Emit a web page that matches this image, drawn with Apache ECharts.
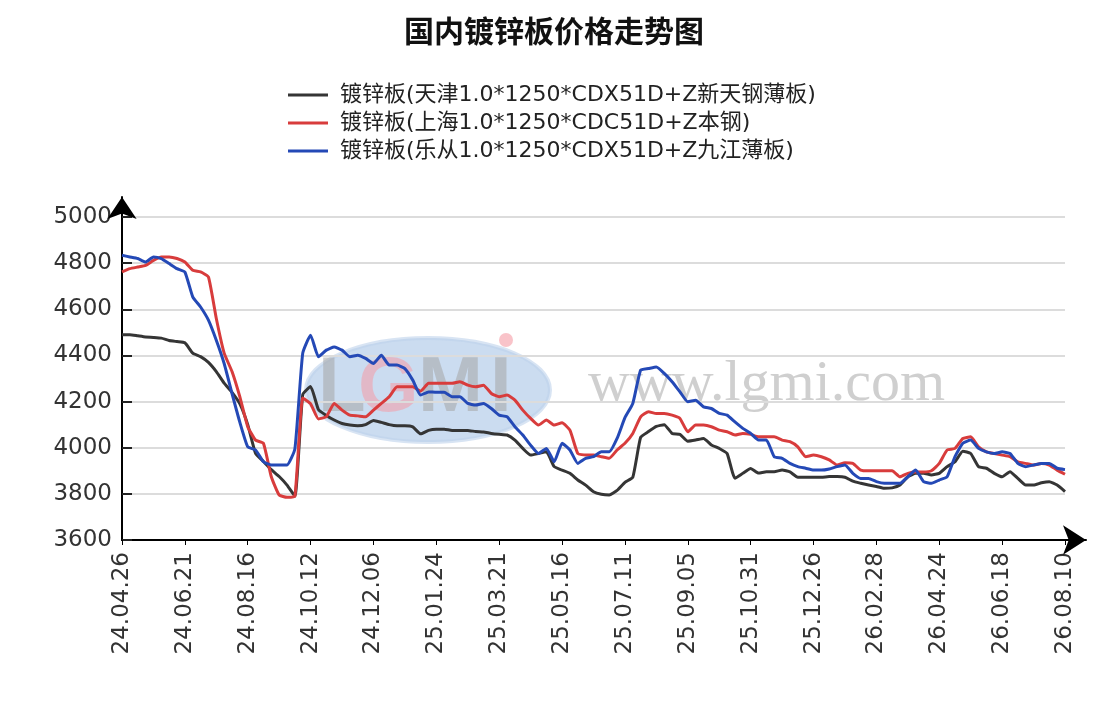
<!DOCTYPE html>
<html>
<head>
<meta http-equiv="content-type" content="text/html; charset=utf-8"/>
<title>国内镀锌板价格走势图</title>
<style type="text/css">
    html, body { margin: 0; padding: 0; background: #fff; }
    #main { width: 1108px; height: 707px; }
</style>
<script type="text/javascript" src="https://cdn.jsdelivr.net/npm/echarts@6/dist/echarts.min.js"></script>
</head>
<body>
<div id="main"></div>
<script>
    // x tick labels, one every STEP samples
    var xLabels = ['24.04.26', '24.06.21', '24.08.16', '24.10.12', '24.12.06', '25.01.24',
        '25.03.21', '25.05.16', '25.07.11', '25.09.05', '25.10.31', '25.12.26',
        '26.02.28', '26.04.24', '26.06.18', '26.08.10'];
    var STEP = 8;
    var seriesNames = ['镀锌板(天津1.0*1250*CDX51D+Z新天钢薄板)',
        '镀锌板(上海1.0*1250*CDC51D+Z本钢)',
        '镀锌板(乐从1.0*1250*CDX51D+Z九江薄板)'];
    var seriesColors = ['#353535', '#d83c3c', '#2449b6'];

    // 天津
    var tianjin = [
        4490, 4490, 4485, 4480, 4478, 4475, 4465, 4460, 4455, 4410, 4395, 4370, 4330, 4280, 4240, 4190,
        4100, 3975, 3940, 3905, 3875, 3838, 3790, 4230, 4265, 4165, 4140, 4120, 4105, 4098, 4095,
        4100, 4118, 4110, 4100, 4095, 4095, 4090, 4060, 4075, 4080, 4080, 4075, 4075, 4075, 4070,
        4068, 4062, 4058, 4055, 4033, 3997, 3968, 3975, 3982, 3918, 3903, 3889, 3860, 3838, 3809,
        3798, 3795, 3815, 3850, 3872, 4045, 4070, 4092, 4100, 4062, 4058, 4028, 4033, 4040, 4012, 3997,
        3975, 3868, 3889, 3910, 3890, 3896, 3896, 3903, 3895, 3872, 3872, 3872, 3872, 3875, 3875, 3872,
        3855, 3846, 3838, 3832, 3824, 3826, 3838, 3874, 3889, 3889, 3882, 3889, 3918, 3939, 3985,
        3975, 3918, 3911, 3889, 3874, 3896, 3867, 3838, 3838, 3848, 3853, 3838, 3810
    ];
    // 上海
    var shanghai = [
        4762, 4776, 4783, 4790, 4812, 4827, 4827, 4820, 4805, 4769, 4762, 4740, 4560, 4410, 4330, 4220,
        4091, 4033, 4019, 3874, 3795, 3785, 3790, 4215, 4190, 4125, 4134, 4192, 4163, 4141, 4138,
        4134, 4163, 4192, 4221, 4264, 4264, 4264, 4245, 4279, 4279, 4279, 4279, 4286, 4271, 4264,
        4271, 4235, 4221, 4228, 4206, 4163, 4127, 4098, 4120, 4098, 4108, 4076, 3975, 3968, 3968,
        3961, 3954, 3990, 4019, 4062, 4134, 4156, 4148, 4148, 4141, 4127, 4069, 4098, 4098, 4091, 4076,
        4069, 4055, 4062, 4058, 4047, 4047, 4047, 4033, 4026, 4004, 3961, 3968, 3961, 3947, 3925, 3935,
        3932, 3903, 3900, 3900, 3900, 3900, 3874, 3889, 3895, 3895, 3900, 3932, 3990, 3997, 4040,
        4047, 4004, 3982, 3975, 3968, 3961, 3939, 3932, 3925, 3932, 3925, 3903, 3885
    ];
    // 乐从
    var lecong = [
        4834, 4827, 4820, 4805, 4827, 4820, 4798, 4776, 4762, 4654, 4610, 4553, 4466, 4365, 4235, 4110,
        4004, 3990, 3939, 3925, 3925, 3925, 3995, 4410, 4488, 4394, 4423, 4437, 4423, 4394, 4401,
        4387, 4365, 4401, 4358, 4358, 4343, 4293, 4228, 4242, 4240, 4240, 4221, 4221, 4192, 4185,
        4192, 4170, 4141, 4134, 4091, 4055, 4011, 3975, 3997, 3939, 4019, 3990, 3932, 3954, 3961,
        3982, 3982, 4040, 4130, 4192, 4336, 4343, 4350, 4322, 4286, 4242, 4199, 4206, 4177, 4170, 4149,
        4141, 4112, 4084, 4062, 4033, 4033, 3961, 3954, 3932, 3918, 3911, 3903, 3903, 3908, 3918, 3925,
        3889, 3867, 3867, 3853, 3846, 3846, 3846, 3874, 3903, 3853, 3846, 3860, 3874, 3961, 4019,
        4033, 3997, 3982, 3975, 3982, 3975, 3932, 3918, 3925, 3932, 3932, 3911, 3905
    ];
    var yMin = 3600, yMax = 5000, yStep = 200;

    var font = 'DejaVu Sans, Noto Sans CJK SC, sans-serif';

    function toPoints(values) {
        var pts = [];
        for (var i = 0; i < values.length; i++) {
            pts.push([i / STEP, values[i]]);
        }
        return pts;
    }

    var chart = echarts.init(document.getElementById('main'));
    var allValues = [tianjin, shanghai, lecong];
    var series = [];
    for (var s = 0; s < allValues.length; s++) {
        series.push({
            name: seriesNames[s],
            type: 'line',
            xAxisIndex: 0,
            yAxisIndex: 0,
            showSymbol: false,
            smooth: 0.15,
            lineStyle: { color: seriesColors[s], width: 3 },
            itemStyle: { color: seriesColors[s] },
            data: toPoints(allValues[s])
        });
    }

    var option = {
        animation: false,
        backgroundColor: '#fff',
        title: {
            text: '国内镀锌板价格走势图',
            left: 'center',
            top: 11,
            textStyle: { fontSize: 30, fontWeight: 'bold', color: '#111', fontFamily: 'Noto Sans CJK SC' }
        },
        legend: {
            orient: 'vertical',
            left: 283,
            top: 79,
            itemWidth: 40,
            itemHeight: 3,
            itemGap: 6,
            icon: 'rect',
            textStyle: { fontSize: 22, color: '#222', fontFamily: font, padding: [0, 0, 0, 7] },
            data: seriesNames
        },
        // watermark
        graphic: [
            {
                type: 'ellipse', z: 0, silent: true,
                shape: { cx: 428, cy: 390, rx: 122, ry: 52 },
                style: { fill: 'rgba(140,178,222,0.45)', stroke: 'rgba(190,210,235,0.6)', lineWidth: 4 }
            },
            { type: 'text', z: 0, silent: true, x: 318, y: 428,
              style: { text: 'L', font: 'bold 78px Liberation Sans', fill: 'rgba(165,165,165,0.55)', textVerticalAlign: 'bottom' } },
            { type: 'text', z: 0, silent: true, x: 358, y: 428,
              style: { text: 'G', font: 'bold 78px Liberation Sans', fill: 'rgba(245,155,165,0.55)', textVerticalAlign: 'bottom' } },
            { type: 'text', z: 0, silent: true, x: 418, y: 428,
              style: { text: 'M', font: 'bold 78px Liberation Sans', fill: 'rgba(165,165,165,0.55)', textVerticalAlign: 'bottom' } },
            { type: 'text', z: 0, silent: true, x: 490, y: 428,
              style: { text: 'I', font: 'bold 78px Liberation Sans', fill: 'rgba(165,165,165,0.55)', textVerticalAlign: 'bottom' } },
            { type: 'circle', z: 0, silent: true, shape: { cx: 506, cy: 340, r: 7 },
              style: { fill: 'rgba(245,155,165,0.6)' } },
            { type: 'text', z: 0, silent: true, x: 588, y: 414,
              style: { text: 'www.lgmi.com', font: '58px Liberation Serif', fill: 'rgba(160,160,160,0.5)', textVerticalAlign: 'bottom' } }
        ],
        grid: [
            { left: 122, right: 43, top: 217, bottom: 167 },
            { left: 122, right: 22, top: 197, bottom: 167 }
        ],
        xAxis: [
            {
                type: 'value',
                gridIndex: 0,
                min: 0,
                max: xLabels.length - 1,
                interval: 1,
                axisLine: { show: true, lineStyle: { color: '#000', width: 2 } },
                axisTick: { show: true, length: 5, lineStyle: { color: '#000', width: 1 } },
                splitLine: { show: false },
                axisLabel: {
                    rotate: 90,
                    margin: 12,
                    fontSize: 23,
                    color: '#333',
                    fontFamily: font,
                    formatter: function (v) { return xLabels[v]; }
                }
            },
            {
                type: 'value', gridIndex: 1, min: 0, max: 1,
                axisLine: { show: true, symbol: ['none', 'arrow'], symbolSize: [22, 23], lineStyle: { color: '#000', width: 2 } },
                axisTick: { show: false }, axisLabel: { show: false }, splitLine: { show: false }
            }
        ],
        yAxis: [
            {
                type: 'value',
                gridIndex: 0,
                min: yMin,
                max: yMax,
                interval: yStep,
                axisLine: { show: true, lineStyle: { color: '#000', width: 2 } },
                axisTick: { show: true, inside: true, length: 10, lineStyle: { color: '#222', width: 2 } },
                splitLine: { show: true, lineStyle: { color: '#dcdcdc', width: 2 } },
                axisLabel: {
                    margin: 10, fontSize: 23, color: '#333', fontFamily: font,
                    formatter: function (v) { return String(v); }
                }
            },
            {
                type: 'value', gridIndex: 1, min: 0, max: 1,
                axisLine: { show: true, symbol: ['none', 'arrow'], symbolSize: [22, 22], lineStyle: { color: '#000', width: 2 } },
                axisTick: { show: false }, axisLabel: { show: false }, splitLine: { show: false }
            }
        ],
        series: series
    };

    chart.setOption(option);
</script>
</body>
</html>
